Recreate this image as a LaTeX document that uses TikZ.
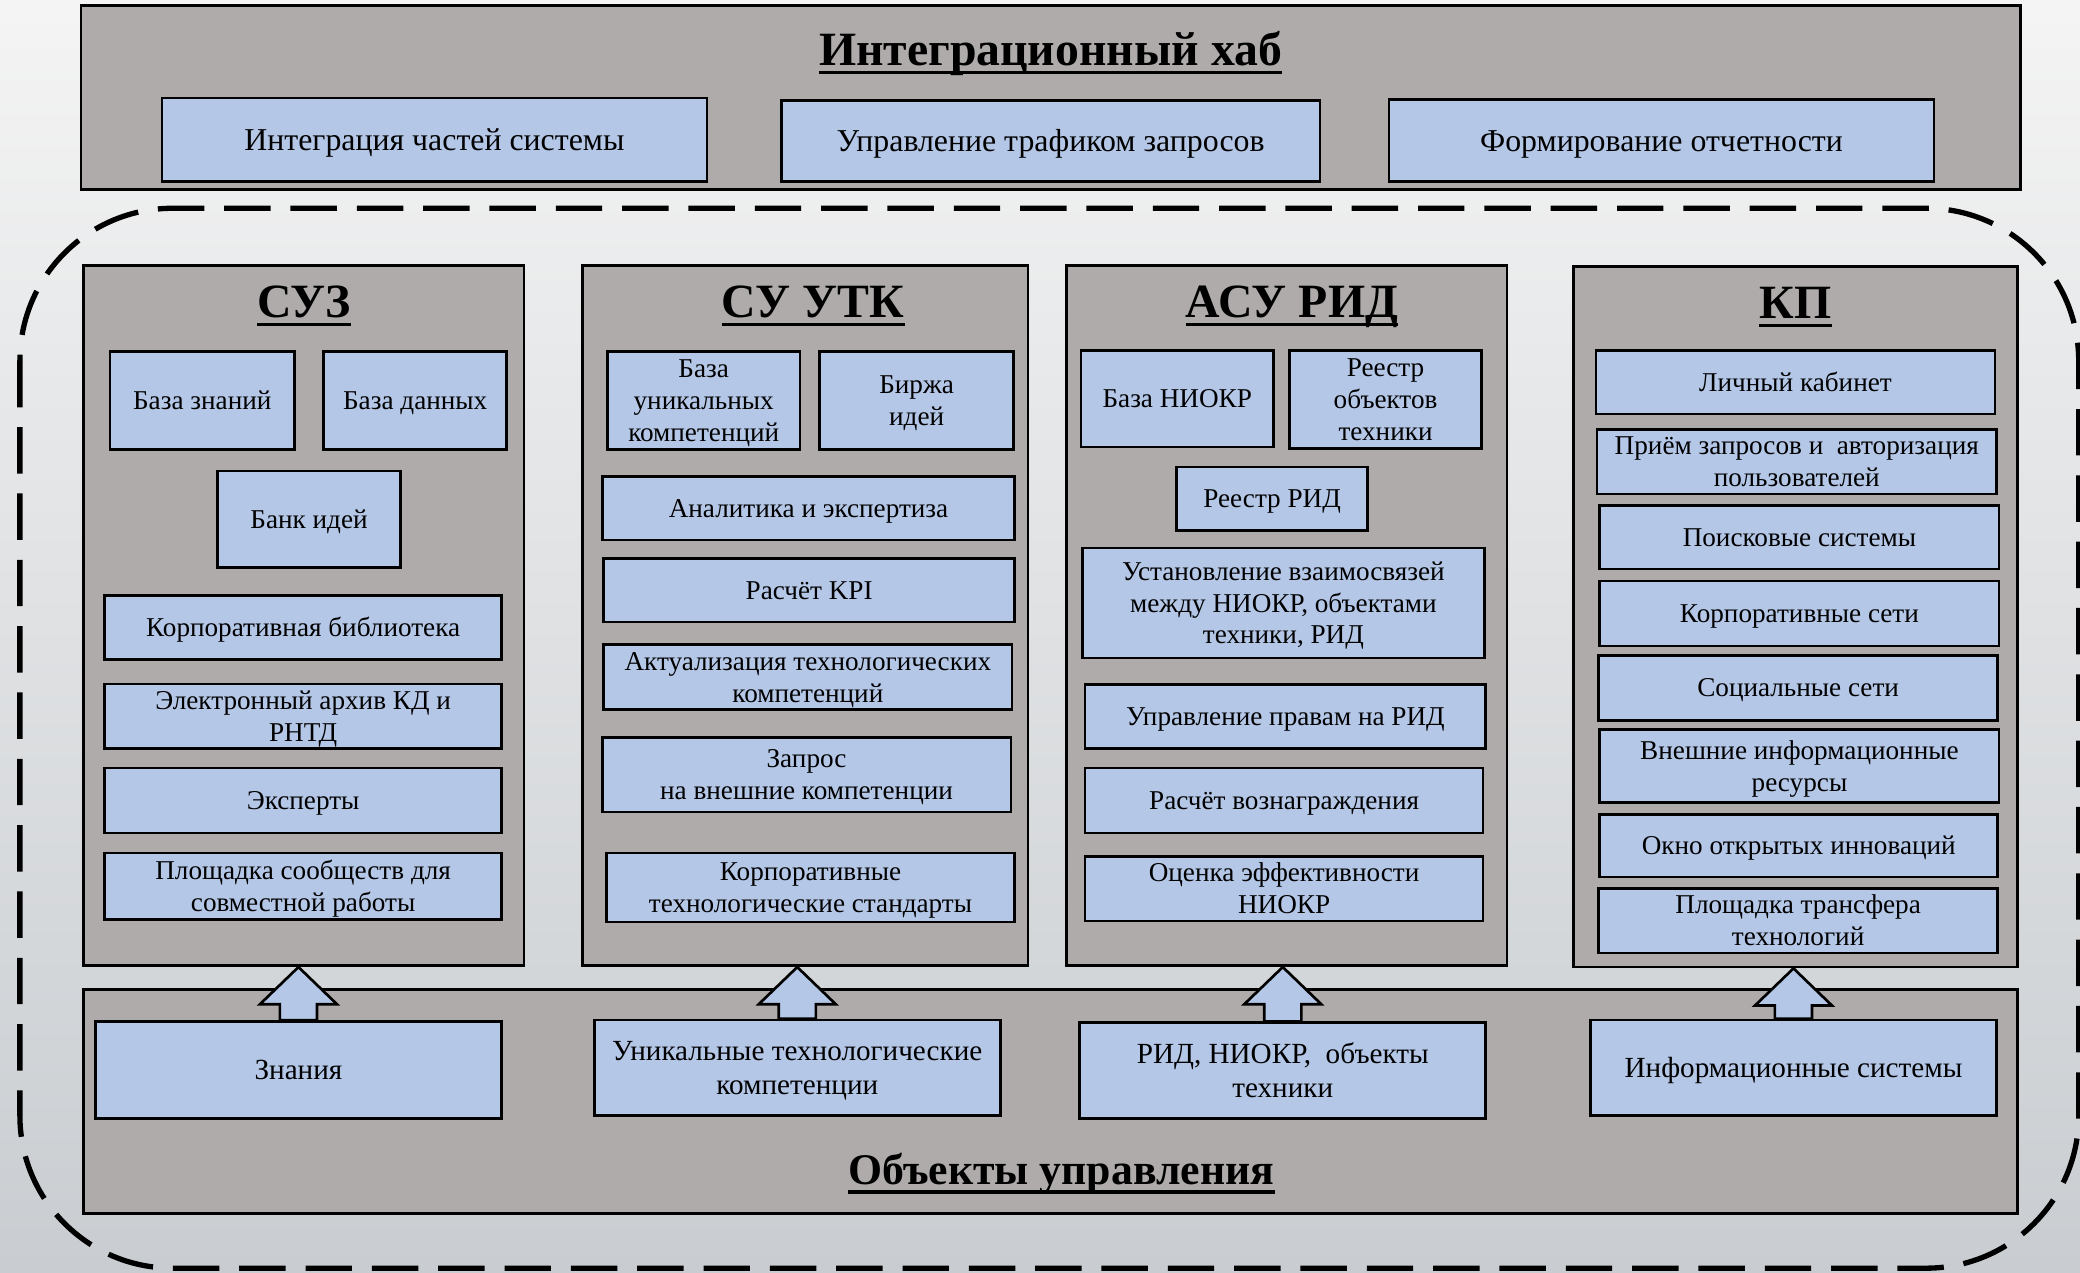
\documentclass[tikz,border=0pt]{standalone}
\usepackage{fontspec}
\setmainfont{Liberation Serif}
\usetikzlibrary{positioning, calc}

\definecolor{panelgray}{HTML}{AFABAB}
\definecolor{itemblue}{HTML}{B4C7E7}
\definecolor{bgtop}{HTML}{F4F4F4}
\definecolor{bgmid}{HTML}{E4E6E8}
\definecolor{bgbot}{HTML}{C9CDD1}

\newcommand{\itemfont}{\fontsize{20.5}{24}\selectfont}
\newcommand{\hubfont}{\fontsize{24}{28}\selectfont}
\newcommand{\objfont}{\fontsize{22}{24}\selectfont}
\newcommand{\titlefont}{\fontsize{36}{40}\selectfont\bfseries}
% line-box strut: full ascent and descent of the font
\newcommand{\linestrut}{\rule[-0.22em]{0pt}{1.11em}}

% block arrow from a lower box up to the panel above it
\newcommand{\liftarrow}[2]{%
  \draw[liftbox] let \p1=(#1.north), \p2=(#2.south) in
    (\x1-14pt,\y1) -- (\x1-14pt,\y2-28pt) -- (\x1-29pt,\y2-28pt) -- (\x1,\y2)
    -- (\x1+29pt,\y2-28pt) -- (\x1+14pt,\y2-28pt) -- (\x1+14pt,\y1) -- cycle;}
% line under a title node
\newcommand{\underscore}[1]{%
  \draw[titleline] ([yshift=-5.5pt]#1.base west) -- ([yshift=-5.5pt]#1.base east);}

\begin{document}
\begin{tikzpicture}[
  x=1pt, y=-1pt,
  panelbox/.style={draw=black, fill=panelgray, line width=2pt, inner sep=0pt},
  itembox/.style={draw=black, fill=itemblue, line width=2pt, align=flush center,
     inner sep=1pt, font=\itemfont,
     execute at begin node=\linestrut, execute at end node=\linestrut},
  hubitem/.style={itembox, font=\hubfont},
  objitem/.style={itembox, font=\objfont},
  sz/.style 2 args={minimum width=#1pt, minimum height=#2pt,
     text width=\dimexpr #1pt-6pt\relax},
  paneltitle/.style={font=\titlefont, anchor=base, inner sep=0pt},
  titleline/.style={draw=black, line width=2.6pt},
  dashframe/.style={draw=black, line width=4pt, dash pattern=on 35pt off 15pt,
     rounded corners=115pt},
  liftbox/.style={draw=black, fill=itemblue, line width=2pt, line join=miter}
  ]
  \shade[top color=bgtop, middle color=bgmid, bottom color=bgbot] (0,0) rectangle (1568,959);
  \useasboundingbox (0,0) rectangle (1568,959);

  % dashed contour
  \draw[dashframe] (15,157) rectangle (1567,956);

  % hub
  \node[panelbox, sz={1462}{139}] (hub) at (792,73.5) {};
  \node[paneltitle] (hubtitle) at ([yshift=-46pt]hub.north) {Интеграционный хаб};
  \underscore{hubtitle}
  \node[hubitem, sz={411}{63}] (integr) at (327.5,105.5) {Интеграция частей системы};
  \node[hubitem, sz={406}{61}] (traffic) at (792,106.5) {Управление трафиком запросов};
  \node[hubitem, sz={411}{62}] (report) at (1252.5,106) {Формирование отчетности};

  % panels
  \node[panelbox, sz={332}{528}] (suz) at (229,464) {};
  \node[panelbox, sz={336}{528}] (sutk) at (607,464) {};
  \node[panelbox, sz={332}{528}] (asurid) at (970,464) {};
  \node[panelbox, sz={335}{528}] (kp) at (1353.5,465) {};
  \node[paneltitle] (suztitle) at ([yshift=-40pt]suz.north) {СУЗ};
  \node[paneltitle] (sutktitle) at ([xshift=6pt,yshift=-40pt]sutk.north) {СУ УТК};
  \node[paneltitle] (asuridtitle) at ([xshift=4pt,yshift=-40pt]asurid.north) {АСУ РИД};
  \node[paneltitle] (kptitle) at ([yshift=-40pt]kp.north) {КП};
  \underscore{suztitle}
  \underscore{sutktitle}
  \underscore{asuridtitle}
  \underscore{kptitle}

  % СУЗ
  \node[itembox, sz={139}{74}] (kbase) at (152.5,302) {База знаний};
  \node[itembox, sz={138}{74}] (dbase) at (313,302) {База данных};
  \node[itembox, sz={138}{73}] (ibank) at (233,391.5) {Банк идей};
  \node[itembox, sz={299}{48}] (library) at (228.5,473) {Корпоративная библиотека};
  \node[itembox, sz={299}{48}] (archive) at (228.5,540) {Электронный архив КД и\\РНТД};
  \node[itembox, sz={299}{49}] (experts) at (228.5,603.5) {Эксперты};
  \node[itembox, sz={299}{50}] (communities) at (228.5,668) {Площадка сообществ для\\совместной работы};

  % СУ УТК
  \node[itembox, sz={145}{74}] (compbase) at (530.5,302) {База\\уникальных\\компетенций};
  \node[itembox, sz={146}{74}] (exchange) at (691,302) {Биржа\\идей};
  \node[itembox, sz={311}{48}] (analytics) at (609.5,383) {Аналитика и экспертиза};
  \node[itembox, sz={310}{48}] (kpi) at (610,445) {Расчёт KPI};
  \node[itembox, sz={308}{49}] (actual) at (609,510.5) {Актуализация технологических\\компетенций};
  \node[itembox, sz={308}{56}] (request) at (608,584) {Запрос\\на внешние компетенции};
  \node[itembox, sz={308}{52}] (standards) at (611,669) {Корпоративные\\технологические стандарты};

  % АСУ РИД
  \node[itembox, sz={145}{73}] (rdbase) at (887.5,300.5) {База НИОКР};
  \node[itembox, sz={145}{74}] (techreg) at (1044.5,301) {Реестр\\объектов\\техники};
  \node[itembox, sz={144}{48}] (ridreg) at (959,376) {Реестр РИД};
  \node[itembox, sz={303}{83}] (links) at (967.5,454.5) {Установление взаимосвязей\\между НИОКР, объектами\\техники, РИД};
  \node[itembox, sz={302}{48}] (rights) at (969,540) {Управление правам на РИД};
  \node[itembox, sz={300}{49}] (reward) at (968,603.5) {Расчёт вознаграждения};
  \node[itembox, sz={300}{48}] (efficiency) at (968,670) {Оценка эффективности\\НИОКР};

  % КП
  \node[itembox, sz={301}{48}] (cabinet) at (1353.5,288) {Личный кабинет};
  \node[itembox, sz={301}{48}] (auth) at (1354.5,348) {Приём запросов и~ авторизация\\пользователей};
  \node[itembox, sz={301}{48}] (search) at (1356.5,405) {Поисковые системы};
  \node[itembox, sz={301}{49}] (corpnet) at (1356.5,462.5) {Корпоративные сети};
  \node[itembox, sz={301}{49}] (socnet) at (1355.5,518.5) {Социальные сети};
  \node[itembox, sz={301}{55}] (extres) at (1356.5,577.5) {Внешние информационные\\ресурсы};
  \node[itembox, sz={300}{47}] (openinn) at (1356,637.5) {Окно открытых инноваций};
  \node[itembox, sz={301}{48}] (transfer) at (1355.5,694) {Площадка трансфера\\технологий};

  % objects of management
  \node[panelbox, sz={1458}{169}] (objects) at (792,830.5) {};
  \node[paneltitle, font=\fontsize{33}{36}\selectfont\bfseries] (objtitle)
    at ([xshift=8pt,yshift=23pt]objects.south) {Объекты управления};
  \underscore{objtitle}
  \node[objitem, sz={306}{73}] (knowledge) at (225,806.5) {Знания};
  \node[objitem, sz={306}{72}] (uniqcomp) at (601,805) {Уникальные технологические\\компетенции};
  \node[objitem, sz={306}{72}] (ridobj) at (967,807) {РИД, НИОКР,~ объекты\\техники};
  \node[objitem, sz={306}{72}] (infosys) at (1352,805) {Информационные системы};

  % arrows
  \liftarrow{knowledge}{suz}
  \liftarrow{uniqcomp}{sutk}
  \liftarrow{ridobj}{asurid}
  \liftarrow{infosys}{kp}
\end{tikzpicture}
\end{document}
